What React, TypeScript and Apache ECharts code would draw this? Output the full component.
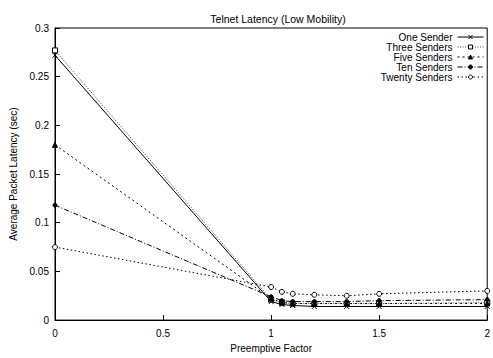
import React, { useEffect, useRef } from "react";
import * as echarts from "echarts";

const xValues = [0, 1, 1.05, 1.1, 1.2, 1.35, 1.5, 2];
const seriesNames = ["One Sender", "Three Senders", "Five Senders", "Ten Senders", "Twenty Senders"];
const oneSender = [0.272, 0.019, 0.016, 0.015, 0.014, 0.014, 0.014, 0.014];
const threeSenders = [0.277, 0.021, 0.018, 0.017, 0.017, 0.017, 0.017, 0.018];
const fiveSenders = [0.18, 0.022, 0.018, 0.017, 0.017, 0.017, 0.017, 0.017];
const tenSenders = [0.118, 0.024, 0.02, 0.019, 0.019, 0.019, 0.02, 0.021];
const twentySenders = [0.075, 0.034, 0.029, 0.027, 0.026, 0.025, 0.027, 0.03];

const FONT = "'Liberation Sans', Arial, Helvetica, sans-serif";

export default function App() {
  const ref = useRef<HTMLDivElement>(null);
  useEffect(() => {
    if (!ref.current) return;
    const chart = echarts.init(ref.current, null, { renderer: "svg" });
    const values = [oneSender, threeSenders, fiveSenders, tenSenders, twentySenders];
    const styles: any[] = [
      { color: "#000", type: "solid", symbol: "path://M0,0L10,10M10,0L0,10", size: 5, fill: "none" },
      { color: "#444", type: [1, 1.5], symbol: "rect", size: 5, fill: "#fff" },
      { color: "#000", type: [2, 3], symbol: "triangle", size: 5, fill: "#000" },
      { color: "#000", type: [5, 2, 1, 2], symbol: "circle", size: 4, fill: "#000" },
      { color: "#000", type: [1.5, 2.5], symbol: "circle", size: 5, fill: "#fff" },
    ];
    const series = values.map((vals, i) => ({
      name: seriesNames[i],
      type: "line",
      data: vals.map((v, j) => [xValues[j], v]),
      symbol: styles[i].symbol,
      symbolSize: styles[i].size,
      showAllSymbol: true,
      lineStyle: { color: styles[i].color, width: 1, type: styles[i].type },
      itemStyle: { color: styles[i].fill, borderColor: "#000", borderWidth: 1 },
      emphasis: { disabled: true },
    }));
    chart.setOption({
      animation: false,
      title: {
        text: "Telnet Latency (Low Mobility)",
        left: 273,
        textAlign: "center",
        top: 8,
        textStyle: { fontFamily: FONT, fontSize: 10.5, fontWeight: "normal", color: "#000" },
      },
      legend: {
        orient: "vertical",
        right: 9,
        top: 32,
        padding: 0,
        align: "right",
        itemGap: 0,
        itemWidth: 26,
        itemHeight: 5,
        lineStyle: { width: 1 },
        itemStyle: { borderWidth: 1 },
        textStyle: { fontFamily: FONT, fontSize: 10, lineHeight: 10, color: "#000", padding: [0, 0, 0, 0] },
        data: seriesNames,
      },
      grid: { left: 55, top: 28, right: 1, bottom: 36, show: true, borderColor: "#000", borderWidth: 1 },
      xAxis: {
        type: "value",
        min: 0,
        max: 2,
        interval: 0.5,
        name: "Preemptive Factor",
        nameLocation: "middle",
        nameGap: 21,
        nameTextStyle: { fontFamily: FONT, fontSize: 10, color: "#000" },
        axisLine: { lineStyle: { color: "#000" } },
        axisTick: { inside: true, length: 5, lineStyle: { color: "#000" } },
        axisLabel: { fontFamily: FONT, fontSize: 10, color: "#000", margin: 8 },
        splitLine: { show: false },
      },
      yAxis: {
        type: "value",
        min: 0,
        max: 0.3,
        interval: 0.05,
        name: "Average Packet Latency (sec)",
        nameLocation: "middle",
        nameGap: 36,
        nameTextStyle: { fontFamily: FONT, fontSize: 10, color: "#000" },
        axisLine: { lineStyle: { color: "#000" } },
        axisTick: { inside: true, length: 5, lineStyle: { color: "#000" } },
        axisLabel: { fontFamily: FONT, fontSize: 10, color: "#000", margin: 6 },
        splitLine: { show: false },
      },
      series,
    });
    return () => chart.dispose();
  }, []);
  return (
    <div
      ref={ref}
      style={{ position: "fixed", left: 0, top: 0, width: 493, height: 358, background: "#fff" }}
    />
  );
}
